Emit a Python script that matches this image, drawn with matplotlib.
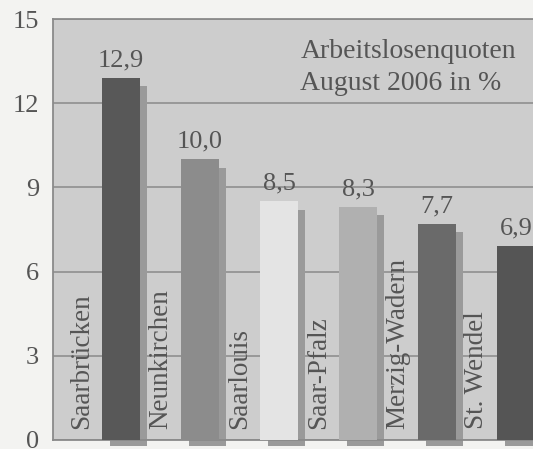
import matplotlib.pyplot as plt
import numpy as np

# Daten
kreise = ['Saarbrücken', 'Neunkirchen', 'Saarlouis', 'Saar-Pfalz', 'Merzig-Wadern', 'St. Wendel']
quoten = [12.9, 10.0, 8.5, 8.3, 7.7, 6.9]
farben = ['#585858', '#8c8c8c', '#e4e4e4', '#b0b0b0', '#6a6a6a', '#555555']
y_ticks = [0, 3, 6, 9, 12, 15]

textfarbe = '#555555'
plt.rcParams['font.family'] = ['Liberation Serif', 'DejaVu Serif']

fig = plt.figure(figsize=(5.33, 4.49), dpi=100, facecolor='#f3f3f1')
ax = fig.add_axes([53 / 533, 9 / 449, 480 / 533, 421 / 449])
ax.set_facecolor('#cdcdcd')

x = np.arange(len(kreise))
breite = 0.48

# Schatten hinter den Balken
ax.bar(x + 0.09, np.array(quoten) - 0.08, breite * 0.97, bottom=-0.22,
       color='#9a9a9a', zorder=2, clip_on=False)
balken = ax.bar(x, quoten, breite, color=farben, zorder=3)

for i, (name, wert) in enumerate(zip(kreise, quoten)):
    ax.text(i, wert + 0.42, f'{wert:.1f}'.replace('.', ','), ha='center', va='baseline',
            fontsize=19, color=textfarbe, zorder=4)
    ax.text(i - 0.5, 0.4, name, rotation=90, ha='center', va='bottom',
            fontsize=19.5, color=textfarbe, zorder=4)

ax.text(2.27, 13.61, 'Arbeitslosenquoten', ha='left', va='baseline',
        fontsize=20, color=textfarbe)
ax.text(2.27, 12.47, 'August 2006 in %', ha='left', va='baseline',
        fontsize=20, color=textfarbe)

ax.set_xlim(-0.861, 5.215)
ax.set_ylim(0, 15)
ax.set_yticks(y_ticks)
ax.set_yticklabels([str(t) for t in y_ticks], fontsize=19, color=textfarbe)
ax.set_xticks([])
ax.tick_params(axis='y', length=0, pad=10)
ax.yaxis.grid(True, color='#8f8f8f', linewidth=1.2, zorder=1)
ax.set_axisbelow(True)
ax.spines['right'].set_visible(False)
for s in ['left', 'top', 'bottom']:
    ax.spines[s].set_color('#8a8a8a')
    ax.spines[s].set_linewidth(1.3)

fig.savefig('out.png', dpi=100, facecolor=fig.get_facecolor())
